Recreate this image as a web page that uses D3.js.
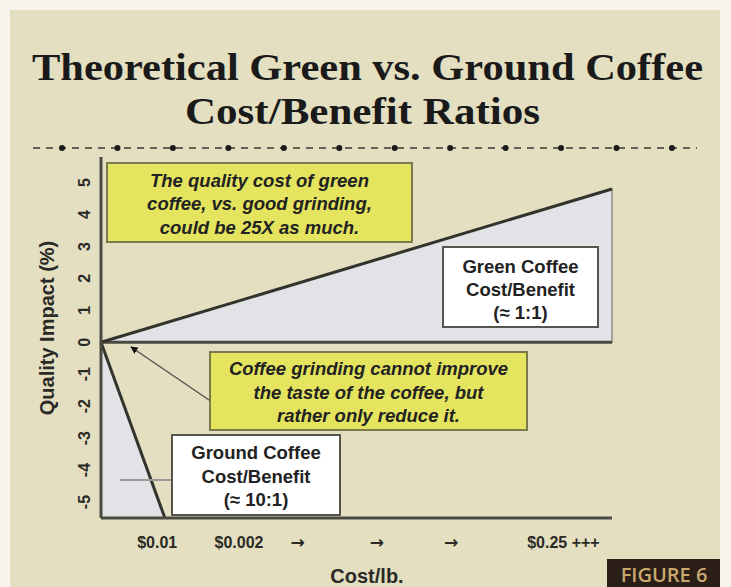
<!DOCTYPE html>
<html>
<head>
<meta charset="utf-8">
<script src="https://cdn.jsdelivr.net/npm/d3@7"></script>
<style>
  body { margin: 0; background: #f6f4ec; }
  svg { display: block; }
</style>
</head>
<body>
<div id="chart"></div>
<script>
// data
const yTicks = [-5, -4, -3, -2, -1, 0, 1, 2, 3, 4, 5];
const xLabels = ["$0.01", "$0.002", "→", "→", "→", "$0.25 +++"];
const xLabelPos = [11, 27, 38.5, 54, 68.5, 90.5];
const greenX = [0, 100];
const greenY = [0, 4.8];
const groundX = [0, 12.5];
const groundY = [0, -5.5];

const W = 731, H = 587;

const svg = d3.select("#chart")
    .append("svg")
    .attr("width", W)
    .attr("height", H);

// panel
svg.append("rect")
    .attr("x", 10).attr("y", 10)
    .attr("width", 710).attr("height", H - 10)
    .attr("fill", "#e4dfc1");

// title
svg.append("text")
    .attr("x", 32).attr("y", 80)
    .attr("textLength", 671)
    .attr("lengthAdjust", "spacingAndGlyphs")
    .style("font-family", "'Liberation Serif', 'Times New Roman', serif")
    .style("font-weight", "bold")
    .style("font-size", "37px")
    .attr("fill", "#1a1a1a")
    .text("Theoretical Green vs. Ground Coffee");

svg.append("text")
    .attr("x", 185).attr("y", 124)
    .attr("textLength", 355)
    .attr("lengthAdjust", "spacingAndGlyphs")
    .style("font-family", "'Liberation Serif', 'Times New Roman', serif")
    .style("font-weight", "bold")
    .style("font-size", "37px")
    .attr("fill", "#1a1a1a")
    .text("Cost/Benefit Ratios");

// dashed divider with dots
svg.append("line")
    .attr("x1", 33).attr("x2", 697)
    .attr("y1", 148).attr("y2", 148)
    .attr("stroke", "#3a3a33")
    .attr("stroke-width", 1.5)
    .attr("stroke-dasharray", "7,6");

svg.append("g")
    .selectAll("circle")
    .data(d3.range(12))
    .join("circle")
    .attr("cx", i => 62 + i * 55.45)
    .attr("cy", 148)
    .attr("r", 3)
    .attr("fill", "#1a1a1a");

// scales
const x = d3.scaleLinear().domain([0, 100]).range([101, 612]);
const y = d3.scaleLinear().domain([-5.5, 5.8]).range([518, 157]);

const green = greenX.map((d, i) => ({x: d, y: greenY[i]}));
const ground = groundX.map((d, i) => ({x: d, y: groundY[i]}));

// green triangle
svg.append("path")
    .datum([green[0], green[1], {x: green[1].x, y: 0}])
    .attr("fill", "#e2e2e7")
    .attr("stroke", "#8a8a86")
    .attr("stroke-width", 1.5)
    .attr("d", d3.line().x(d => x(d.x)).y(d => y(d.y)).curve(d3.curveLinearClosed));

// ground triangle
svg.append("path")
    .datum([ground[0], ground[1], {x: 0, y: ground[1].y}])
    .attr("fill", "#e2e2e7")
    .attr("d", d3.line().x(d => x(d.x)).y(d => y(d.y)).curve(d3.curveLinearClosed));

// zero line
svg.append("line")
    .attr("x1", x(0)).attr("x2", x(100))
    .attr("y1", y(0)).attr("y2", y(0))
    .attr("stroke", "#4a4a42")
    .attr("stroke-width", 3);

// series lines
svg.append("path")
    .datum(green)
    .attr("fill", "none")
    .attr("stroke", "#33332d")
    .attr("stroke-width", 3)
    .attr("d", d3.line().x(d => x(d.x)).y(d => y(d.y)));

svg.append("path")
    .datum(ground)
    .attr("fill", "none")
    .attr("stroke", "#33332d")
    .attr("stroke-width", 3)
    .attr("d", d3.line().x(d => x(d.x)).y(d => y(d.y)));

// axes lines
svg.append("line")
    .attr("x1", x(0)).attr("x2", x(0))
    .attr("y1", 157).attr("y2", y(-5.5))
    .attr("stroke", "#4a4a42")
    .attr("stroke-width", 3);

svg.append("line")
    .attr("x1", x(0)).attr("x2", x(100))
    .attr("y1", y(-5.5)).attr("y2", y(-5.5))
    .attr("stroke", "#4a4a42")
    .attr("stroke-width", 3);

// y tick labels (rotated)
svg.append("g")
    .selectAll("text")
    .data(yTicks)
    .join("text")
    .attr("transform", d => `translate(90, ${y(d)}) rotate(-90)`)
    .attr("text-anchor", "middle")
    .style("font-family", "'Liberation Sans', Arial, sans-serif")
    .style("font-weight", "bold")
    .style("font-size", "16px")
    .attr("fill", "#2a2a26")
    .text(d => d);

svg.append("text")
    .attr("transform", "translate(54, 328) rotate(-90)")
    .attr("text-anchor", "middle")
    .style("font-family", "'Liberation Sans', Arial, sans-serif")
    .style("font-weight", "bold")
    .style("font-size", "20px")
    .attr("fill", "#2a2a26")
    .text("Quality Impact (%)");

// x tick labels
svg.append("g")
    .selectAll("text")
    .data(xLabels)
    .join("text")
    .attr("x", (d, i) => x(xLabelPos[i]))
    .attr("y", 548)
    .attr("text-anchor", "middle")
    .style("font-family", d => d === "→" ? "'DejaVu Sans', sans-serif" : "'Liberation Sans', Arial, sans-serif")
    .style("font-weight", "bold")
    .style("font-size", d => d === "→" ? "17px" : "16px")
    .attr("fill", "#2a2a26")
    .text(d => d);

svg.append("text")
    .attr("x", 367).attr("y", 583)
    .attr("text-anchor", "middle")
    .style("font-family", "'Liberation Sans', Arial, sans-serif")
    .style("font-weight", "bold")
    .style("font-size", "20px")
    .attr("fill", "#2a2a26")
    .text("Cost/lb.");

// pointer lines
svg.append("defs").append("marker")
    .attr("id", "arrow")
    .attr("viewBox", "0 0 10 10")
    .attr("refX", 9).attr("refY", 5)
    .attr("markerWidth", 5).attr("markerHeight", 5)
    .attr("orient", "auto")
    .append("path")
    .attr("d", "M0,0 L10,5 L0,10 z")
    .attr("fill", "#111");

svg.append("line")
    .attr("x1", 212).attr("y1", 402)
    .attr("x2", 131).attr("y2", 347)
    .attr("stroke", "#55554d")
    .attr("stroke-width", 1.5)
    .attr("marker-end", "url(#arrow)");

svg.append("line")
    .attr("x1", 120).attr("x2", 174)
    .attr("y1", 480).attr("y2", 480)
    .attr("stroke", "#9a9a94")
    .attr("stroke-width", 2);

// annotation boxes
function box(x0, y0, w, h, fill, stroke, lines, baselines, italic) {
    svg.append("rect")
        .attr("x", x0).attr("y", y0)
        .attr("width", w).attr("height", h)
        .attr("fill", fill)
        .attr("stroke", stroke)
        .attr("stroke-width", 2);
    svg.append("g")
        .selectAll("text")
        .data(lines)
        .join("text")
        .attr("x", x0 + w / 2)
        .attr("y", (d, i) => baselines[i])
        .attr("text-anchor", "middle")
        .style("font-family", "'Liberation Sans', Arial, sans-serif")
        .style("font-weight", "bold")
        .style("font-style", italic ? "italic" : "normal")
        .style("font-size", "18.5px")
        .attr("fill", "#222")
        .text(d => d);
}

box(107, 163, 305, 79, "#e4e45e", "#7a7a4c",
    ["The quality cost of green", "coffee, vs. good grinding,", "could be 25X as much."],
    [187, 210, 234], true);

box(443, 247, 155, 80, "#ffffff", "#55554f",
    ["Green Coffee", "Cost/Benefit", "(≈ 1:1)"],
    [273, 296, 319], false);

box(210, 352, 317, 78, "#e4e45e", "#7a7a4c",
    ["Coffee grinding cannot improve", "the taste of the coffee, but", "rather only reduce it."],
    [375, 399, 422], true);

box(172, 435, 168, 80, "#ffffff", "#55554f",
    ["Ground Coffee", "Cost/Benefit", "(≈ 10:1)"],
    [459, 483, 506], false);

// figure tag
svg.append("rect")
    .attr("x", 607).attr("y", 559)
    .attr("width", 113).attr("height", 28)
    .attr("fill", "#2b1e16");

svg.append("text")
    .attr("x", 664).attr("y", 582)
    .attr("text-anchor", "middle")
    .style("font-family", "'Open Sans', Lato, sans-serif")
    .style("font-weight", "600")
    .style("font-size", "20px")
    .attr("fill", "#c9a96e")
    .text("FIGURE 6");
</script>
</body>
</html>
